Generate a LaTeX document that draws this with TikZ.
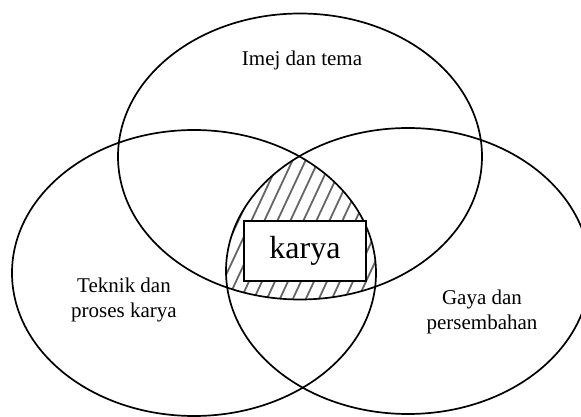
\documentclass[tikz,border=0pt]{standalone}
\usepackage{fontspec}
\setmainfont{Liberation Serif}
\tikzset{
  venn/.style={draw=black, line width=1.7pt},
  hatchline/.style={draw=black!60, line width=1.8pt},
  lbl/.style={font=\fontsize{21}{25}\selectfont, align=center, inner sep=0pt},
  karyabox/.style={draw=black, fill=white, line width=1.8pt, minimum width=122pt, minimum height=60pt, inner sep=0pt, font=\fontsize{32}{36}\selectfont}
}
\begin{document}
\begin{tikzpicture}[x=1pt,y=-1pt]
\useasboundingbox (0,0) rectangle (581,417);
\clip (0,0) rectangle (581,417);
% hatching of the triple intersection
\begin{scope}
  \clip (194,273) ellipse [x radius=182, y radius=143];
  \clip (408,271) ellipse [x radius=182, y radius=143];
  \clip (300,156.5) ellipse [x radius=182, y radius=143];
  \foreach \i in {0,...,24} {
    \draw[hatchline] ({140+\i*13},320) -- ++(85,-182);
  }
\end{scope}
% ellipses
\draw[venn] (300,156.5) ellipse [x radius=182, y radius=143];
\draw[venn] (194,273) ellipse [x radius=182, y radius=143];
\draw[venn] (408,271) ellipse [x radius=182, y radius=143];
% labels
\node[lbl] (imej) at (302,60) {Imej dan tema};
\node[lbl] (teknik) at (124,300) {Teknik dan\\proses karya};
\node[lbl] (gaya) at (482,312) {Gaya dan\\persembahan};
\node[karyabox] (karya) at (305,251) {karya};
\end{tikzpicture}
\end{document}
